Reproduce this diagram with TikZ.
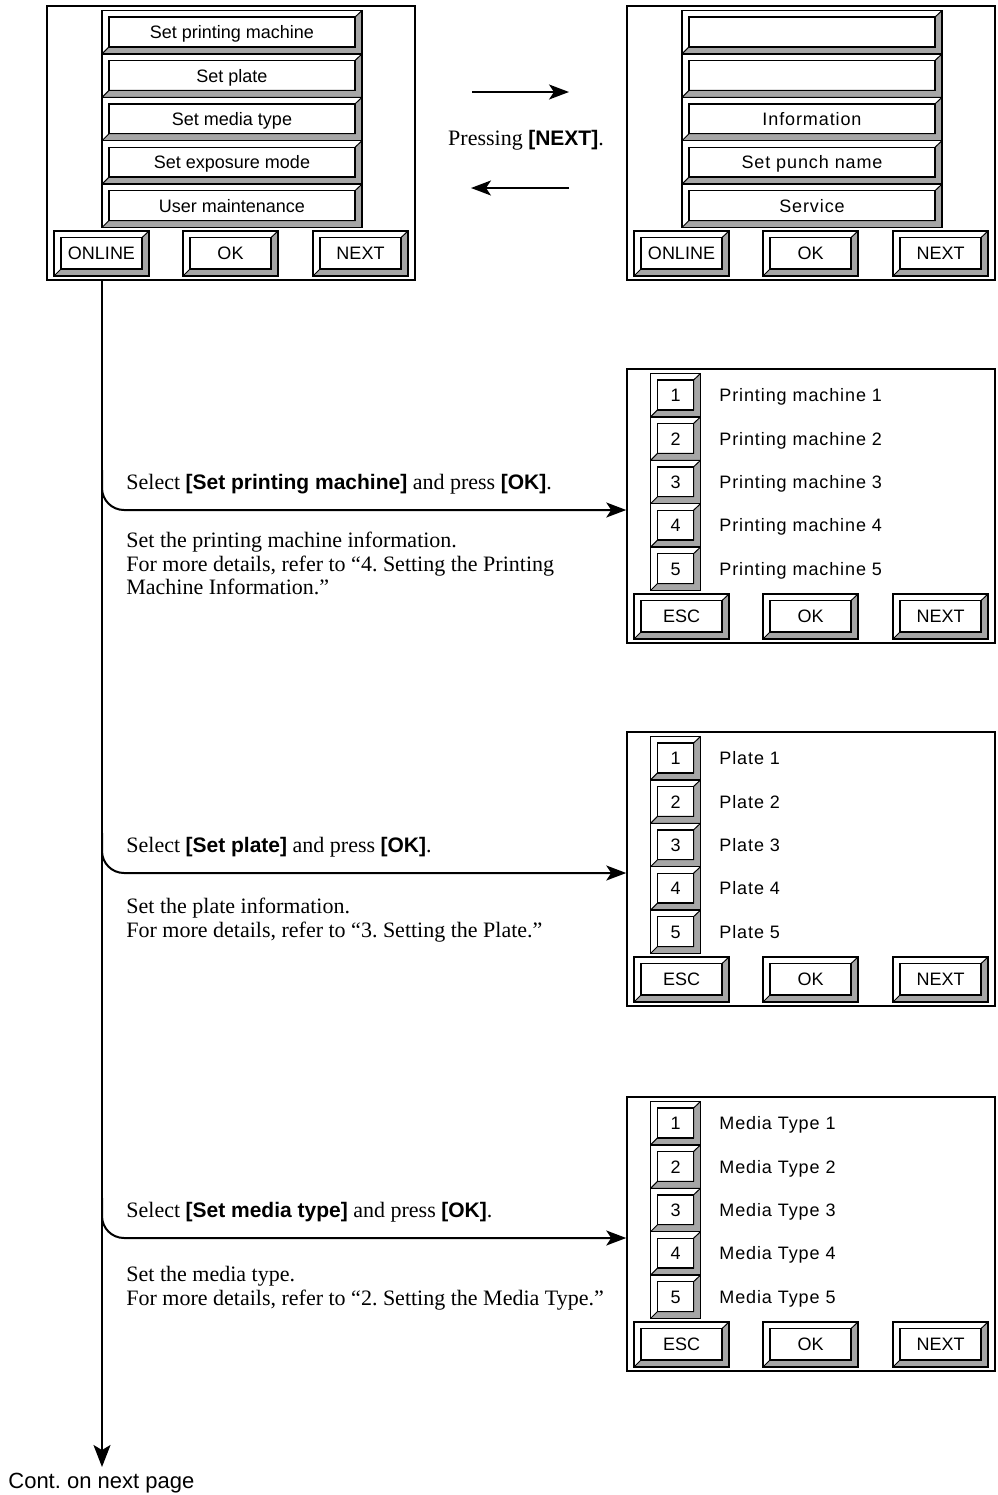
\documentclass[tikz,border=0pt]{standalone}
\usepackage{fontspec}
\setmainfont{Liberation Serif}
\setsansfont{Liberation Sans}
\newfontfamily\spacedsans[LetterSpace=5]{Liberation Sans}
\usetikzlibrary{arrows.meta}
\newcommand{\key}[1]{{\sffamily\bfseries\fontsize{10.5}{12}\selectfont #1}}

\begin{document}
\begin{tikzpicture}[x=0.5pt, y=-0.5pt,
    screen/.style={draw, line width=0.75pt, minimum width=184pt, minimum height=137pt, inner sep=0pt},
    bevel/.style={draw, fill=white, line width=0.7pt, inner sep=0pt,
        font=\sffamily\fontsize{9}{10}\selectfont, text height=8pt, text depth=1.6pt,
        path picture={
            \filldraw[fill=gray!70, line width=0.5pt]
                (path picture bounding box.south east) -- (path picture bounding box.north east)
                -- ([xshift=-3.5pt, yshift=-3.3pt]path picture bounding box.north east)
                -- ([xshift=-3.5pt, yshift=3.5pt]path picture bounding box.south east)
                -- ([xshift=3.5pt, yshift=3.5pt]path picture bounding box.south west)
                -- (path picture bounding box.south west) -- cycle;
            \draw[line width=0.7pt]
                ([xshift=3.5pt, yshift=-3.3pt]path picture bounding box.north west)
                rectangle ([xshift=-3.5pt, yshift=3.5pt]path picture bounding box.south east);
        }},
    menubtn/.style={bevel, minimum width=130pt, minimum height=21.7pt},
    softkey/.style={bevel, minimum width=47.5pt, minimum height=22.5pt},
    numbtn/.style={bevel, minimum width=25pt, minimum height=21.7pt},
    spaced/.style={font=\spacedsans\fontsize{9}{10}\selectfont},
    item/.style={spaced, anchor=west, inner sep=0pt, text height=8pt, text depth=1.6pt},
    select/.style={anchor=west, inner sep=0pt, font=\fontsize{11}{11.75}\selectfont, text height=9.8pt, text depth=2.5pt},
    note/.style={anchor=north west, inner sep=0pt, align=left, font=\fontsize{11}{11.75}\selectfont},
    flow/.style={line width=1pt, -{Stealth[length=10pt, width=7.5pt, inset=2.5pt]}},
    branch/.style={flow, rounded corners=11pt}]

    \useasboundingbox (0,0) rectangle (997,1495);

    % Main menu, first page
    \begin{scope}[shift={(47,6)}]
        \node[screen] (scr0) at (184,137) {};
        \node[menubtn] (prt0) at (185,26.2) {Set printing machine};
        \node[menubtn] (plt0) at (185,69.6) {Set plate};
        \node[menubtn] (med0) at (185,113) {Set media type};
        \node[menubtn] (exp0) at (185,156.4) {Set exposure mode};
        \node[menubtn] (usr0) at (185,199.8) {User maintenance};
        \node[softkey] (onl0) at (54.5,247.5) {ONLINE};
        \node[softkey] (ok0) at (183.5,247.5) {OK};
        \node[softkey] (nxt0) at (313.5,247.5) {NEXT};
    \end{scope}

    % Main menu, second page
    \begin{scope}[shift={(627,6)}]
        \node[screen] (scr1) at (184,137) {};
        \node[menubtn] (blk1) at (185,26.2) {};
        \node[menubtn] (blk2) at (185,69.6) {};
        \node[menubtn, spaced] (inf1) at (185,113) {Information};
        \node[menubtn, spaced] (pun1) at (185,156.4) {Set punch name};
        \node[menubtn, spaced] (svc1) at (185,199.8) {Service};
        \node[softkey] (onl1) at (54.5,247.5) {ONLINE};
        \node[softkey] (ok1) at (183.5,247.5) {OK};
        \node[softkey] (nxt1) at (313.5,247.5) {NEXT};
    \end{scope}

    % paging between the two menus
    \node[anchor=base, inner sep=0pt, font=\fontsize{11}{12}\selectfont] (press) at (526,145) {Pressing \key{[NEXT]}.};
    \coordinate (fwd0) at (472,92);
    \coordinate (fwd1) at (569,92);
    \coordinate (bck0) at (569,188);
    \coordinate (bck1) at (471,188);
    \draw[flow] (fwd0) -- (fwd1);
    \draw[flow] (bck0) -- (bck1);

    % Printing machine list
    \begin{scope}[shift={(627,369)}]
        \node[screen] (scr2) at (184,137) {};
        \node[numbtn] (pm1) at (48.5,26.2) {1};
        \node[item] (pmt1) at (92,26.2) {Printing machine 1};
        \node[numbtn] (pm2) at (48.5,69.6) {2};
        \node[item] (pmt2) at (92,69.6) {Printing machine 2};
        \node[numbtn] (pm3) at (48.5,113) {3};
        \node[item] (pmt3) at (92,113) {Printing machine 3};
        \node[numbtn] (pm4) at (48.5,156.4) {4};
        \node[item] (pmt4) at (92,156.4) {Printing machine 4};
        \node[numbtn] (pm5) at (48.5,199.8) {5};
        \node[item] (pmt5) at (92,199.8) {Printing machine 5};
        \node[softkey] (esc2) at (54.5,247.5) {ESC};
        \node[softkey] (ok2) at (183.5,247.5) {OK};
        \node[softkey] (nxt2) at (313.5,247.5) {NEXT};
    \end{scope}

    % Plate list
    \begin{scope}[shift={(627,732)}]
        \node[screen] (scr3) at (184,137) {};
        \node[numbtn] (pl1) at (48.5,26.2) {1};
        \node[item] (plt1) at (92,26.2) {Plate 1};
        \node[numbtn] (pl2) at (48.5,69.6) {2};
        \node[item] (plt2) at (92,69.6) {Plate 2};
        \node[numbtn] (pl3) at (48.5,113) {3};
        \node[item] (plt3) at (92,113) {Plate 3};
        \node[numbtn] (pl4) at (48.5,156.4) {4};
        \node[item] (plt4) at (92,156.4) {Plate 4};
        \node[numbtn] (pl5) at (48.5,199.8) {5};
        \node[item] (plt5) at (92,199.8) {Plate 5};
        \node[softkey] (esc3) at (54.5,247.5) {ESC};
        \node[softkey] (ok3) at (183.5,247.5) {OK};
        \node[softkey] (nxt3) at (313.5,247.5) {NEXT};
    \end{scope}

    % Media type list
    \begin{scope}[shift={(627,1097)}]
        \node[screen] (scr4) at (184,137) {};
        \node[numbtn] (mt1) at (48.5,26.2) {1};
        \node[item] (mtt1) at (92,26.2) {Media Type 1};
        \node[numbtn] (mt2) at (48.5,69.6) {2};
        \node[item] (mtt2) at (92,69.6) {Media Type 2};
        \node[numbtn] (mt3) at (48.5,113) {3};
        \node[item] (mtt3) at (92,113) {Media Type 3};
        \node[numbtn] (mt4) at (48.5,156.4) {4};
        \node[item] (mtt4) at (92,156.4) {Media Type 4};
        \node[numbtn] (mt5) at (48.5,199.8) {5};
        \node[item] (mtt5) at (92,199.8) {Media Type 5};
        \node[softkey] (esc4) at (54.5,247.5) {ESC};
        \node[softkey] (ok4) at (183.5,247.5) {OK};
        \node[softkey] (nxt4) at (313.5,247.5) {NEXT};
    \end{scope}

    % main flow line
    \coordinate (cont) at (102,1467);
    \draw[flow, -{Stealth[length=11pt, width=8.5pt, inset=2.5pt]}] (scr0.south -| cont) -- (cont);
    \node[anchor=base west, inner sep=0pt, font=\sffamily\fontsize{11}{12}\selectfont] (next) at (8,1488) {Cont.\ on next page};

    % branch to printing machine
    \coordinate (br1) at (102,470);
    \draw[branch] (br1) |- ([yshift=-2pt]scr2.west);
    \node[select] (sel1) at (126,482) {Select \key{[Set printing machine]} and press \key{[OK]}.};
    \node[note] (note1) at (126,532) {Set the printing machine information.\\For more details, refer to “4.\ Setting the Printing\\Machine Information.”};

    % branch to plate
    \coordinate (br2) at (102,833);
    \draw[branch] (br2) |- ([yshift=-2pt]scr3.west);
    \node[select] (sel2) at (126,845) {Select \key{[Set plate]} and press \key{[OK]}.};
    \node[note] (note2) at (126,898) {Set the plate information.\\For more details, refer to “3.\ Setting the Plate.”};

    % branch to media type
    \coordinate (br3) at (102,1198);
    \draw[branch] (br3) |- ([yshift=-2pt]scr4.west);
    \node[select] (sel3) at (126,1210) {Select \key{[Set media type]} and press \key{[OK]}.};
    \node[note] (note3) at (126,1266) {Set the media type.\\For more details, refer to “2.\ Setting the Media Type.”};

\end{tikzpicture}
\end{document}
